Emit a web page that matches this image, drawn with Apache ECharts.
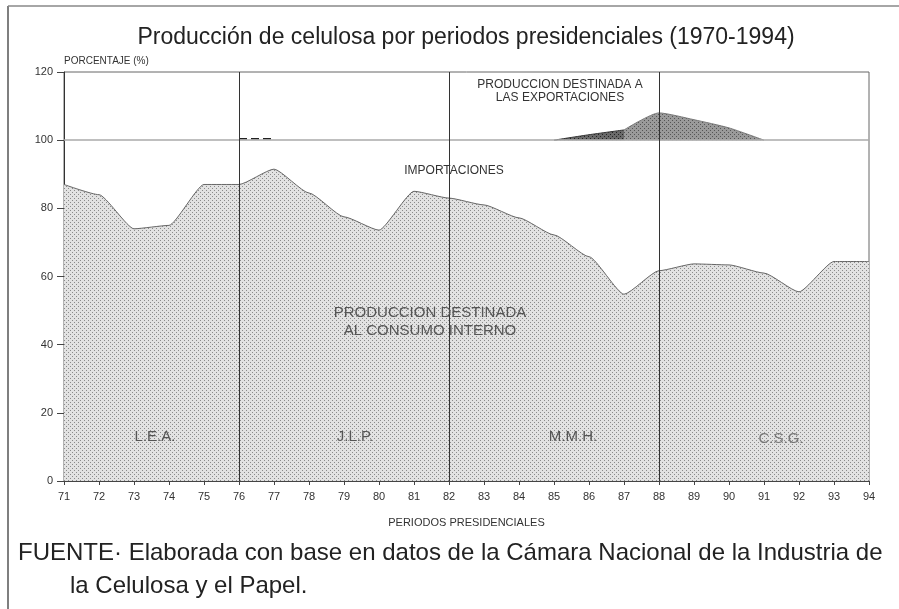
<!DOCTYPE html>
<html>
<head>
<meta charset="utf-8">
<script src="https://cdn.jsdelivr.net/npm/echarts@6/dist/echarts.min.js"></script>
<style>
  html, body { margin: 0; padding: 0; background: #fff; }
  #chart { width: 899px; height: 609px; }
</style>
</head>
<body>
<div id="chart"></div>
<script>
const years = ['71', '72', '73', '74', '75', '76', '77', '78', '79', '80', '81', '82',
  '83', '84', '85', '86', '87', '88', '89', '90', '91', '92', '93', '94'];
// % of production for internal consumption
const consumo = [87, 84, 74, 75, 87, 87, 91.5, 84.5, 77.5, 73.6, 85, 83,
  81, 77.2, 72.2, 65.8, 54.8, 61.7, 63.7, 63.4, 61, 55.5, 64.4, 64.4];
// top of the export band (above 100 %)
const exportA = [null, null, null, null, null, null, null, null, null, null, null, null,
  null, null, 100, 101.6, 103, null, null, null, null, null, null, null];
const exportB = [null, null, null, null, null, null, null, null, null, null, null, null,
  null, null, null, null, 103, 108, 106, 103.6, 100, null, null, null];
const exportSmall = [null, null, null, null, null, 100.4, 100.4, null, null, null, null, null,
  null, null, null, null, null, null, null, null, null, null, null, null];
const periodos = ['76', '82', '88'];
const yTicks = [0, 20, 40, 60, 80, 100, 120];

function pattern(bg, dot) {
  const c = document.createElement('canvas');
  c.width = 4; c.height = 4;
  const g = c.getContext('2d');
  g.fillStyle = bg; g.fillRect(0, 0, 4, 4);
  g.fillStyle = dot;
  g.fillRect(0, 0, 1, 1);
  g.fillRect(2, 2, 1, 1);
  return { image: c, repeat: 'repeat' };
}

const chart = echarts.init(document.getElementById('chart'), null, { renderer: 'canvas' });
const font = '"Liberation Sans", Arial, sans-serif';

function label(x, y, text, size, fill, lh) {
  return { type: 'text', x: x, y: y, z: 10,
    style: { text: text, align: 'center', verticalAlign: 'middle', fontFamily: font,
      fontSize: size, lineHeight: lh || size + 3, fill: fill } };
}

chart.setOption({
  backgroundColor: '#fff',
  animation: false,
  title: {
    text: 'Producción de celulosa por periodos presidenciales (1970-1994)',
    left: 461, top: 21, textAlign: 'center',
    textStyle: { fontFamily: font, fontSize: 23, fontWeight: 'normal', color: '#222' }
  },
  grid: { left: 64, right: 30, top: 72, bottom: 128, show: true, borderColor: '#666', borderWidth: 1, backgroundColor: 'transparent' },
  xAxis: {
    type: 'category', data: years, boundaryGap: false,
    name: 'PERIODOS PRESIDENCIALES', nameLocation: 'middle', nameGap: 36,
    nameTextStyle: { fontFamily: font, fontSize: 11, color: '#333' },
    axisLine: { lineStyle: { color: '#444' } },
    axisTick: { show: true, length: 4, lineStyle: { color: '#444' } },
    axisLabel: { fontFamily: font, fontSize: 11, color: '#333', margin: 10, interval: 0 },
    splitLine: { show: false }
  },
  yAxis: {
    type: 'value', min: 0, max: 120, interval: 20,
    name: 'PORCENTAJE (%)', nameLocation: 'end', nameGap: 6,
    nameTextStyle: { fontFamily: font, fontSize: 10, color: '#333', align: 'left' },
    axisLine: { show: true, lineStyle: { color: '#333' } },
    axisTick: { show: true, length: 7, lineStyle: { color: '#444' } },
    axisLabel: { fontFamily: font, fontSize: 11, color: '#333', margin: 11,
      formatter: v => yTicks.includes(v) ? String(v) : '' },
    splitLine: { show: false }
  },
  series: [
    {
      name: 'Consumo interno', type: 'line', data: consumo, smooth: 0.18, smoothMonotone: 'x',
      symbol: 'none', z: 2,
      lineStyle: { color: '#666', width: 1 },
      areaStyle: { color: pattern('#e2e2e2', '#8a8a8a'), opacity: 1 },
      markLine: {
        silent: true, symbol: 'none', label: { show: false },
        data: [
          { yAxis: 100, lineStyle: { color: '#aaa', width: 1.5, type: 'solid' } },
          ...periodos.map(p => ({ xAxis: p, lineStyle: { color: '#333', width: 1, type: 'solid' } }))
        ]
      }
    },
    {
      name: 'Exportaciones A', type: 'line', data: exportA, smooth: 0.2,
      symbol: 'none', z: 3,
      lineStyle: { color: '#333', width: 1 },
      areaStyle: { color: pattern('#6a6a6a', '#222'), opacity: 1, origin: 100 }
    },
    {
      name: 'Exportaciones B', type: 'line', data: exportB, smooth: 0.2,
      symbol: 'none', z: 3,
      lineStyle: { color: '#777', width: 1 },
      areaStyle: { color: pattern('#9a9a9a', '#555'), opacity: 1, origin: 100 }
    },
    {
      name: 'Exportaciones menores', type: 'line', data: exportSmall,
      symbol: 'none', z: 3,
      lineStyle: { color: '#222', width: 1.5, type: [8, 4] }
    }
  ],
  graphic: [
    { type: 'line', shape: { x1: 8, y1: 6, x2: 8, y2: 609 }, style: { stroke: '#555', lineWidth: 1.5 } },
    { type: 'line', shape: { x1: 8, y1: 6, x2: 899, y2: 6 }, style: { stroke: '#888', lineWidth: 1.5 } },
    label(560, 91, 'PRODUCCION DESTINADA A\nLAS EXPORTACIONES', 12, '#333', 13),
    label(454, 171, 'IMPORTACIONES', 12, '#333'),
    label(430, 322, 'PRODUCCION DESTINADA\nAL CONSUMO INTERNO', 15, '#555', 18),
    label(155, 437, 'L.E.A.', 15, '#555'),
    label(355, 437, 'J.L.P.', 15, '#555'),
    label(573, 437, 'M.M.H.', 15, '#555'),
    label(781, 439, 'C.S.G.', 15, '#777'),
    { type: 'text', x: 18, y: 553, style: { text: 'FUENTE· Elaborada con base en datos de la Cámara Nacional de la Industria de', verticalAlign: 'middle', fontFamily: font, fontSize: 24, fill: '#222' } },
    { type: 'text', x: 70, y: 586, style: { text: 'la Celulosa y el Papel.', verticalAlign: 'middle', fontFamily: font, fontSize: 24, fill: '#222' } }
  ]
});
</script>
</body>
</html>
